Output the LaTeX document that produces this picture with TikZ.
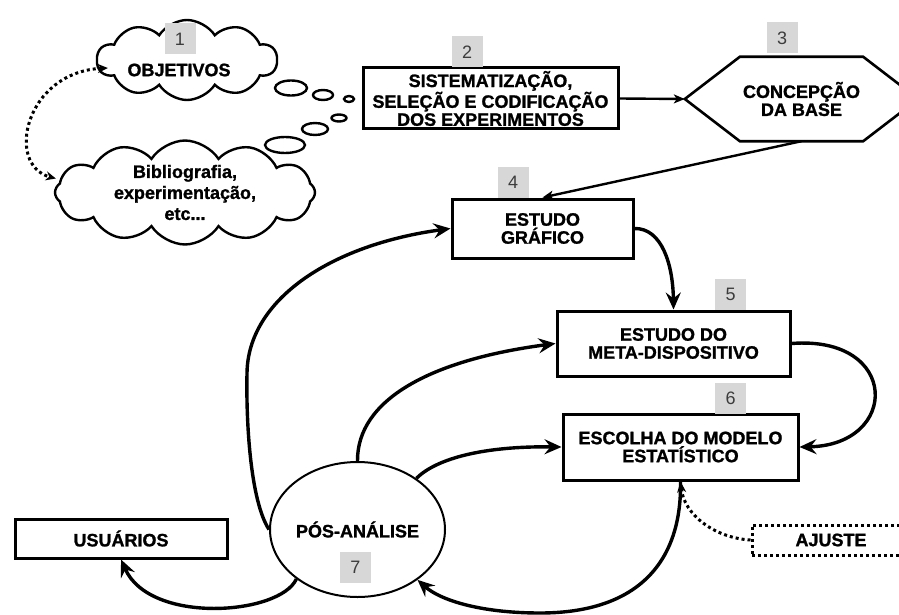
\documentclass[tikz,border=0pt]{standalone}
\usepackage{fontspec}
\setmainfont{Liberation Sans}[BoldFeatures={FakeBold=1.2}]
\usetikzlibrary{shapes.geometric,shapes.symbols,arrows.meta}
\definecolor{numgray}{RGB}{215,215,215}
\definecolor{numtext}{RGB}{60,60,60}
\begin{document}
\begin{tikzpicture}[x=1pt,y=-1pt,
  lbl/.style={font=\bfseries\fontsize{18}{18}\selectfont, align=center},
  boxnode/.style={lbl, draw, line width=3pt, inner sep=0pt, fill=white},
  num/.style={fill=numgray, minimum width=31pt, minimum height=31pt, inner sep=0pt, font=\fontsize{18}{18}\selectfont, text=numtext},
  conn/.style={line width=3.4pt, -{Stealth[length=17pt,width=15pt,inset=6pt]}},
  thinarrow/.style={line width=2.4pt, -{Stealth[length=11pt,width=9pt,inset=3pt]}},
  dots/.style={line width=3pt, dash pattern=on 3pt off 3pt},
  cloudnode/.style={cloud, draw, line width=2.4pt, cloud ignores aspect, inner sep=0pt, fill=white},
  bubble/.style={ellipse, draw, line width=2.4pt, inner sep=0pt}
]
\fill[white] (0,0) rectangle (899,615);
\useasboundingbox (0,0) rectangle (899,615);

% clouds
\node[cloudnode, cloud puffs=10, cloud puff arc=115, minimum width=180pt, minimum height=80pt] (o) at (187,60) {};
\node[lbl] (ot) at (179,70) {OBJETIVOS};
\node[cloudnode, lbl, cloud puffs=12, cloud puff arc=115, minimum width=260pt, minimum height=101pt, font=\bfseries\fontsize{18}{21}\selectfont] (c) at (185,192.5) {Bibliografia,\\experimentação,\\etc...};

% thought bubbles
\node[bubble, minimum width=32pt, minimum height=15pt] (e1) at (291,88) {};
\node[bubble, minimum width=20pt, minimum height=10pt] (e2) at (323,95) {};
\node[bubble, minimum width=10pt, minimum height=6pt] (e3) at (349,99) {};
\node[bubble, minimum width=15pt, minimum height=7pt] (e4) at (339,118) {};
\node[bubble, minimum width=26pt, minimum height=12pt] (e5) at (315,129) {};
\node[bubble, minimum width=40pt, minimum height=16pt] (e6) at (285,145) {};

% boxes
\node[boxnode, minimum width=255pt, minimum height=61pt] (b2) at (490.5,98.5) {SISTEMATIZAÇÃO,\\SELEÇÃO E CODIFICAÇÃO\\DOS EXPERIMENTOS};
\node[lbl, minimum width=233pt, minimum height=84pt, inner sep=0pt] (h) at (801.5,99) {CONCEPÇÃO\\DA BASE};
\draw[line width=2.6pt, line join=miter] (h.west) -- ([xshift=55pt]h.north west) -- ([xshift=-55pt]h.north east) -- (h.east) -- ([xshift=-55pt]h.south east) -- ([xshift=55pt]h.south west) -- cycle;
\node[boxnode, minimum width=181pt, minimum height=59pt] (b4) at (542.5,228.5) {ESTUDO\\GRÁFICO};
\node[boxnode, minimum width=233pt, minimum height=65pt] (b5) at (673.5,343.5) {ESTUDO DO\\META-DISPOSITIVO};
\node[boxnode, minimum width=235pt, minimum height=66pt] (b6) at (680.5,447) {ESCOLHA DO MODELO\\ESTATÍSTICO};
\node[boxnode, minimum width=212pt, minimum height=39pt] (u) at (121,538.5) {USUÁRIOS};
\node[lbl, dots, draw, minimum width=158pt, minimum height=30pt, inner sep=0pt] (a) at (831,540) {AJUSTE};
\node[lbl, ellipse, draw, line width=2pt, minimum width=175pt, minimum height=135pt, inner sep=0pt] (p) at (357.5,529.5) {PÓS-ANÁLISE};

% number tags
\node[num] (n1) at (180,39) {1};
\node[num] (n2) at (467,52) {2};
\node[num] (n3) at (782,38) {3};
\node[num] (n4) at (513,182.5) {4};
\node[num] (n5) at (730.5,294) {5};
\node[num] (n6) at (730.5,398) {6};
\node[num] (n7) at (355.5,567.5) {7};

% connectors
\draw[dots, {Stealth[length=10pt,width=9pt]}-{Stealth[length=10pt,width=9pt]}] ([shift={(12,8)}]o.west) .. controls (25,72) and (5,165) .. ([shift={(2,-14)}]c.west);
\draw[thinarrow] (b2.east) -- (h.west);
\draw[thinarrow] (h.south) -- (b4.north);
\draw[conn] (b4.east) .. controls (662,228) and (673,265) .. (b5.north);
\draw[conn] (b5.east) .. controls (900,335) and (900,445) .. (b6.east);
\draw[conn] (p.west) .. controls (250,500) and (246,420) .. (247,373) .. controls (248,300) and (330,245) .. (b4.west);
\draw[conn] (p.north) .. controls (357,400) and (430,360) .. (b5.west);
\draw[conn] (p.41) .. controls (437,458) and (485,446) .. (b6.west);
\draw[conn] (b6.south) .. controls (682,560) and (640,613) .. (540,613) .. controls (480,613) and (440,600) .. (p.-40);
\draw[conn] (p.219) .. controls (280,615) and (150,625) .. (u.south);
\draw[dots, -{Stealth[length=11pt,width=9pt]}] (a.west) .. controls (715,538) and (684,515) .. (b6.south);
\end{tikzpicture}
\end{document}
